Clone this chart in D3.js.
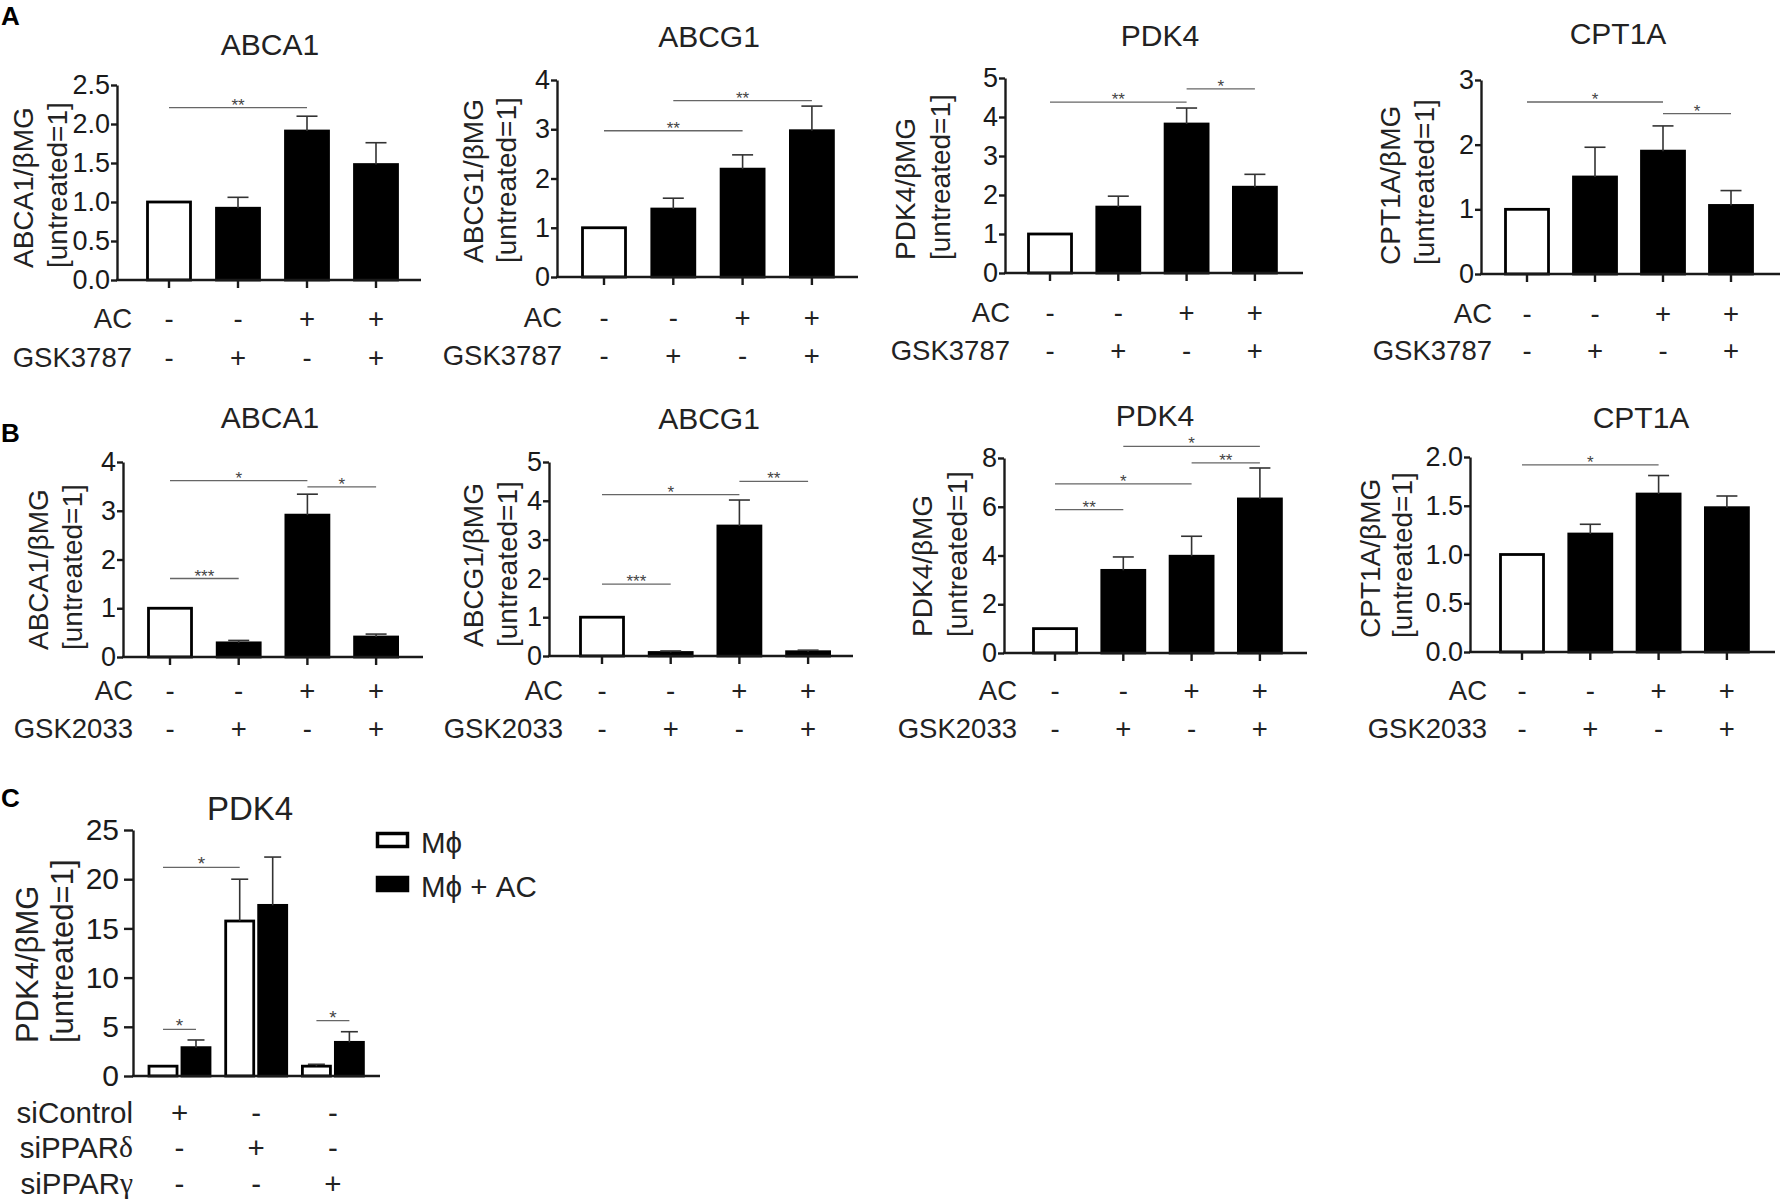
<!DOCTYPE html>
<html><head><meta charset="utf-8">
<script src="https://cdn.jsdelivr.net/npm/d3@7"></script>
<style>
body{margin:0;background:#fff}
svg{display:block}
text{font-family:"Liberation Sans",Arial,Helvetica,sans-serif}
</style>
</head><body>
<svg id="c" width="1781" height="1200"></svg>
<script>
// ---------------- DATA ----------------
const catsAB = ["untreated", "agonist", "AC", "AC + agonist"];
const genesAB = ["ABCA1", "ABCG1", "PDK4", "CPT1A"];
const rowNamesA = ["AC", "GSK3787"];
const rowNamesB = ["AC", "GSK2033"];
const acSigns = ["-", "-", "+", "+"];
const agonistSigns = ["-", "+", "-", "+"];
const yLine2 = "[untreated=1]";

const aABCA1Mean = [1.00, 0.92, 1.91, 1.48], aABCA1Sem = [0, 0.14, 0.19, 0.28];
const aABCG1Mean = [1.00, 1.38, 2.19, 2.97], aABCG1Sem = [0, 0.22, 0.29, 0.50];
const aPDK4Mean  = [1.00, 1.69, 3.82, 2.20], aPDK4Sem  = [0, 0.28, 0.41, 0.33];
const aCPT1AMean = [1.00, 1.50, 1.90, 1.06], aCPT1ASem = [0, 0.46, 0.39, 0.23];
const bABCA1Mean = [1.00, 0.29, 2.91, 0.41], bABCA1Sem = [0, 0.05, 0.43, 0.06];
const bABCG1Mean = [1.00, 0.09, 3.35, 0.11], bABCG1Sem = [0, 0.04, 0.67, 0.04];
const bPDK4Mean  = [1.00, 3.39, 3.97, 6.32], bPDK4Sem  = [0, 0.55, 0.82, 1.27];
const bCPT1AMean = [1.00, 1.21, 1.62, 1.48], bCPT1ASem = [0, 0.10, 0.19, 0.12];

const aABCA1Ticks = [0, 0.5, 1, 1.5, 2, 2.5];
const aABCG1Ticks = [0, 1, 2, 3, 4];
const aPDK4Ticks  = [0, 1, 2, 3, 4, 5];
const aCPT1ATicks = [0, 1, 2, 3];
const bABCA1Ticks = [0, 1, 2, 3, 4];
const bABCG1Ticks = [0, 1, 2, 3, 4, 5];
const bPDK4Ticks  = [0, 2, 4, 6, 8];
const bCPT1ATicks = [0, 0.5, 1, 1.5, 2];

// [from index, to index, bracket height value, label]
const aABCA1Sig = [[0, 2, 2.21, "**"]];
const aABCG1Sig = [[0, 2, 2.97, "**"], [1, 3, 3.58, "**"]];
const aPDK4Sig  = [[0, 2, 4.38, "**"], [2, 3, 4.72, "*"]];
const aCPT1ASig = [[0, 2, 2.66, "*"], [2, 3, 2.48, "*"]];
const bABCA1Sig = [[0, 1, 1.61, "***"], [0, 2, 3.62, "*"], [2, 3, 3.49, "*"]];
const bABCG1Sig = [[0, 1, 1.85, "***"], [0, 2, 4.16, "*"], [2, 3, 4.50, "**"]];
const bPDK4Sig  = [[0, 1, 5.88, "**"], [0, 2, 6.94, "*"], [1, 3, 8.48, "*"], [2, 3, 7.80, "**"]];
const bCPT1ASig = [[0, 2, 1.92, "*"]];

// Panel C
const cGroups = ["siControl", "siPPARδ", "siPPARγ"];
const cSeries = ["Mϕ", "Mϕ + AC"];
const cMacMean   = [1.00, 15.75, 1.00], cMacSem   = [0, 4.25, 0.19];
const cMacACMean = [2.88, 17.34, 3.42], cMacACSem = [0.78, 4.91, 1.08];
const cTicks = [0, 5, 10, 15, 20, 25];
const cRowSigns = [["+", "-", "-"], ["-", "+", "-"], ["-", "-", "+"]];
// [group, series, group, series, height, label]
const cSig = [[0, 0, 0, 1, 4.74, "*"], [0, 0, 1, 0, 21.2, "*"], [2, 0, 2, 1, 5.62, "*"]];

// ---------------- LAYOUT ----------------
const svg = d3.select("#c");
const INK = "#1a1a1a";

const panelsAB = [
  {title: genesAB[0], mean: aABCA1Mean, sem: aABCA1Sem, ticks: aABCA1Ticks, fmt: ".1f", sig: aABCA1Sig, rows: rowNamesA,
   ax: 117, aend: 421, c0: 169, step: 69, y0: 280, yTop: 85, tx: 270, ty: 44, yl: [23, 57, 268], rowX: 132, rowY: [318, 357]},
  {title: genesAB[1], mean: aABCG1Mean, sem: aABCG1Sem, ticks: aABCG1Ticks, fmt: "d", sig: aABCG1Sig, rows: rowNamesA,
   ax: 557, aend: 858, c0: 604, step: 69.3, y0: 277, yTop: 80, tx: 709, ty: 36, yl: [473, 506, 263], rowX: 562, rowY: [317, 355]},
  {title: genesAB[2], mean: aPDK4Mean, sem: aPDK4Sem, ticks: aPDK4Ticks, fmt: "d", sig: aPDK4Sig, rows: rowNamesA,
   ax: 1005, aend: 1303, c0: 1050, step: 68.3, y0: 273, yTop: 78, tx: 1160, ty: 35, yl: [905, 940, 260], rowX: 1010, rowY: [312, 350]},
  {title: genesAB[3], mean: aCPT1AMean, sem: aCPT1ASem, ticks: aCPT1ATicks, fmt: "d", sig: aCPT1ASig, rows: rowNamesA,
   ax: 1481, aend: 1780, c0: 1527, step: 68, y0: 274, yTop: 80, tx: 1618, ty: 33, yl: [1390, 1424, 265], rowX: 1492, rowY: [313, 350]},
  {title: genesAB[0], mean: bABCA1Mean, sem: bABCA1Sem, ticks: bABCA1Ticks, fmt: "d", sig: bABCA1Sig, rows: rowNamesB,
   ax: 123, aend: 423, c0: 170, step: 68.7, y0: 657, yTop: 462, tx: 270, ty: 417, yl: [38, 72, 650], rowX: 133, rowY: [690, 728]},
  {title: genesAB[1], mean: bABCG1Mean, sem: bABCG1Sem, ticks: bABCG1Ticks, fmt: "d", sig: bABCG1Sig, rows: rowNamesB,
   ax: 549, aend: 853, c0: 602, step: 68.7, y0: 656, yTop: 462, tx: 709, ty: 418, yl: [473, 507, 647], rowX: 563, rowY: [690, 728]},
  {title: genesAB[2], mean: bPDK4Mean, sem: bPDK4Sem, ticks: bPDK4Ticks, fmt: "d", sig: bPDK4Sig, rows: rowNamesB,
   ax: 1004, aend: 1307, c0: 1055, step: 68.3, y0: 653, yTop: 458, tx: 1155, ty: 415, yl: [922, 957, 637], rowX: 1017, rowY: [690, 728]},
  {title: genesAB[3], mean: bCPT1AMean, sem: bCPT1ASem, ticks: bCPT1ATicks, fmt: ".1f", sig: bCPT1ASig, rows: rowNamesB,
   ax: 1470, aend: 1775, c0: 1522, step: 68.3, y0: 652, yTop: 457, tx: 1641, ty: 417, yl: [1370, 1402, 638], rowX: 1487, rowY: [690, 728]}
];

function styleYAxis(sel, fs) {
  sel.attr("font-size", null).attr("font-family", null);
  sel.select(".domain").attr("stroke", INK).attr("stroke-width", 2.4);
  sel.selectAll(".tick line").attr("stroke", INK).attr("stroke-width", 2.4);
  sel.selectAll(".tick text").attr("font-size", fs).attr("fill", INK);
}

function yLabel(g, x1, x2, yb, line1, fs) {
  [[x1, line1], [x2, yLine2]].forEach(([x, s]) => {
    g.append("text").attr("x", x).attr("y", yb)
      .attr("transform", `rotate(-90,${x},${yb})`)
      .attr("text-anchor", "start").attr("dominant-baseline", "central")
      .attr("font-size", fs).attr("fill", "#222").text(s);
  });
}

function drawAB(L) {
  const g = svg.append("g");
  const x = d3.scalePoint().domain(catsAB).range([L.c0, L.c0 + L.step * (catsAB.length - 1)]);
  const y = d3.scaleLinear().domain([0, L.ticks[L.ticks.length - 1]]).range([L.y0, L.yTop]);
  const bw = 43, cap = 21;
  const data = catsAB.map((c, i) => ({c, i, m: L.mean[i], s: L.sem[i]}));

  // bars
  g.selectAll("rect.bar").data(data).join("rect").attr("class", "bar")
    .attr("x", d => x(d.c) - bw / 2).attr("y", d => y(d.m))
    .attr("width", bw).attr("height", d => y(0) - y(d.m))
    .attr("fill", d => d.i === 0 ? "#fff" : "#000")
    .attr("stroke", "#000").attr("stroke-width", 2.8);

  // error bars (upper only)
  const eb = data.filter(d => d.s > 0);
  g.selectAll("line.ev").data(eb).join("line")
    .attr("x1", d => x(d.c)).attr("x2", d => x(d.c))
    .attr("y1", d => y(d.m)).attr("y2", d => y(d.m + d.s))
    .attr("stroke", "#333").attr("stroke-width", 1.6);
  g.selectAll("line.ec").data(eb).join("line")
    .attr("x1", d => x(d.c) - cap / 2).attr("x2", d => x(d.c) + cap / 2)
    .attr("y1", d => y(d.m + d.s)).attr("y2", d => y(d.m + d.s))
    .attr("stroke", "#333").attr("stroke-width", 1.6);

  // y axis
  const ya = g.append("g").attr("transform", `translate(${L.ax},0)`)
    .call(d3.axisLeft(y).tickValues(L.ticks).tickFormat(d3.format(L.fmt)).tickSize(6).tickSizeOuter(0).tickPadding(1));
  styleYAxis(ya, 27);

  // x axis line + ticks
  g.append("line").attr("x1", L.ax - 1).attr("x2", L.aend).attr("y1", y(0)).attr("y2", y(0))
    .attr("stroke", INK).attr("stroke-width", 2.4);
  g.selectAll("line.xt").data(catsAB).join("line")
    .attr("x1", d => x(d)).attr("x2", d => x(d)).attr("y1", y(0)).attr("y2", y(0) + 8)
    .attr("stroke", INK).attr("stroke-width", 2.4);

  // significance brackets
  L.sig.forEach(([a, b, v, lab]) => {
    g.append("line").attr("x1", x(catsAB[a])).attr("x2", x(catsAB[b]))
      .attr("y1", y(v)).attr("y2", y(v)).attr("stroke", "#666").attr("stroke-width", 1.3);
    g.append("text").attr("x", (x(catsAB[a]) + x(catsAB[b])) / 2).attr("y", y(v) + 3)
      .attr("text-anchor", "middle").attr("font-size", 17).attr("fill", "#444").text(lab);
  });

  // title
  g.append("text").attr("x", L.tx).attr("y", L.ty).attr("text-anchor", "middle")
    .attr("dominant-baseline", "central").attr("font-size", 30).attr("fill", "#222").text(L.title);

  // y label
  yLabel(g, L.yl[0], L.yl[1], L.yl[2], L.title + "/βMG", 28);

  // treatment rows
  const signs = [acSigns, agonistSigns];
  L.rows.forEach((name, k) => {
    g.append("text").attr("x", L.rowX).attr("y", L.rowY[k]).attr("text-anchor", "end")
      .attr("dominant-baseline", "central").attr("font-size", 27.5).attr("fill", "#222").text(name);
    g.selectAll(null).data(catsAB).join("text")
      .attr("x", d => x(d)).attr("y", L.rowY[k]).attr("text-anchor", "middle")
      .attr("dominant-baseline", "central").attr("font-size", 27.5).attr("fill", "#222")
      .text((d, i) => signs[k][i]);
  });
}

panelsAB.forEach(drawAB);

// ---------------- PANEL C ----------------
(function drawC() {
  const g = svg.append("g");
  const ax = 133, aend = 380, y0 = 1076, yTop = 830;
  const gx = d3.scalePoint().domain(cGroups).range([179.5, 179.5 + 76.7 * 2]);
  const sx = d3.scaleBand().domain(cSeries).range([-30.5, 30.5]).paddingInner(0.15);
  const y = d3.scaleLinear().domain([0, cTicks[cTicks.length - 1]]).range([y0, yTop]);
  const bw = sx.bandwidth(), cap = 17;
  const means = [cMacMean, cMacACMean], sems = [cMacSem, cMacACSem];
  const data = [];
  cGroups.forEach((grp, gi) => cSeries.forEach((s, si) => data.push({grp, s, si, m: means[si][gi], e: sems[si][gi]})));
  const cx = d => gx(d.grp) + sx(d.s) + bw / 2;

  g.selectAll("rect").data(data).join("rect")
    .attr("x", d => gx(d.grp) + sx(d.s)).attr("y", d => y(d.m))
    .attr("width", bw).attr("height", d => y(0) - y(d.m))
    .attr("fill", d => d.si === 0 ? "#fff" : "#000")
    .attr("stroke", "#000").attr("stroke-width", 2.8);

  const eb = data.filter(d => d.e > 0);
  g.selectAll("line.ev").data(eb).join("line")
    .attr("x1", cx).attr("x2", cx).attr("y1", d => y(d.m)).attr("y2", d => y(d.m + d.e))
    .attr("stroke", "#333").attr("stroke-width", 1.6);
  g.selectAll("line.ec").data(eb).join("line")
    .attr("x1", d => cx(d) - cap / 2).attr("x2", d => cx(d) + cap / 2)
    .attr("y1", d => y(d.m + d.e)).attr("y2", d => y(d.m + d.e))
    .attr("stroke", "#333").attr("stroke-width", 1.6);

  const ya = g.append("g").attr("transform", `translate(${ax},0)`)
    .call(d3.axisLeft(y).tickValues(cTicks).tickFormat(d3.format("d")).tickSize(9).tickSizeOuter(0).tickPadding(5));
  styleYAxis(ya, 30);
  g.append("line").attr("x1", ax - 1).attr("x2", aend).attr("y1", y(0)).attr("y2", y(0))
    .attr("stroke", INK).attr("stroke-width", 2.4);

  cSig.forEach(([g1, s1, g2, s2, v, lab]) => {
    const xa = gx(cGroups[g1]) + sx(cSeries[s1]) + bw / 2;
    const xb = gx(cGroups[g2]) + sx(cSeries[s2]) + bw / 2;
    g.append("line").attr("x1", xa).attr("x2", xb).attr("y1", y(v)).attr("y2", y(v))
      .attr("stroke", "#666").attr("stroke-width", 1.3);
    g.append("text").attr("x", (xa + xb) / 2).attr("y", y(v) + 3).attr("text-anchor", "middle")
      .attr("font-size", 19).attr("fill", "#444").text(lab);
  });

  g.append("text").attr("x", 250).attr("y", 808).attr("text-anchor", "middle")
    .attr("dominant-baseline", "central").attr("font-size", 33).attr("fill", "#222").text("PDK4");

  yLabel(g, 27, 62, 1043, "PDK4/βMG", 31);

  const rowY = [1112, 1147, 1183];
  cGroups.forEach((name, k) => {
    const t = g.append("text").attr("x", 133).attr("y", rowY[k]).attr("text-anchor", "end")
      .attr("dominant-baseline", "central").attr("font-size", 29.5).attr("fill", "#222");
    const greek = name.match(/[δγ]$/);
    if (greek) {
      t.append("tspan").text(name.slice(0, -1));
      t.append("tspan").attr("font-family", '"Liberation Serif","DejaVu Serif",serif').text(greek[0]);
    } else t.text(name);
    g.selectAll(null).data(cGroups).join("text")
      .attr("x", d => gx(d)).attr("y", rowY[k]).attr("text-anchor", "middle")
      .attr("dominant-baseline", "central").attr("font-size", 29.5).attr("fill", "#222")
      .text((d, i) => cRowSigns[k][i]);
  });

  // legend
  const lg = g.append("g");
  const ly = d3.scalePoint().domain(cSeries).range([840, 884]);
  lg.selectAll("rect").data(cSeries).join("rect")
    .attr("x", 377.5).attr("y", d => ly(d) - 6.5).attr("width", 30).attr("height", 13)
    .attr("fill", (d, i) => i === 0 ? "#fff" : "#000").attr("stroke", "#000").attr("stroke-width", 3.5);
  lg.selectAll("text").data(cSeries).join("text")
    .attr("x", 421).attr("y", d => ly(d) + 2).attr("dominant-baseline", "central")
    .attr("font-size", 29.5).attr("fill", "#222").text(d => d);
})();

// panel letters
[["A", 25], ["B", 442], ["C", 807]].forEach(([s, yy]) => {
  svg.append("text").attr("x", 1).attr("y", yy).attr("font-size", 26).attr("font-weight", "bold")
    .attr("fill", "#000").text(s);
});
</script>
</body></html>
